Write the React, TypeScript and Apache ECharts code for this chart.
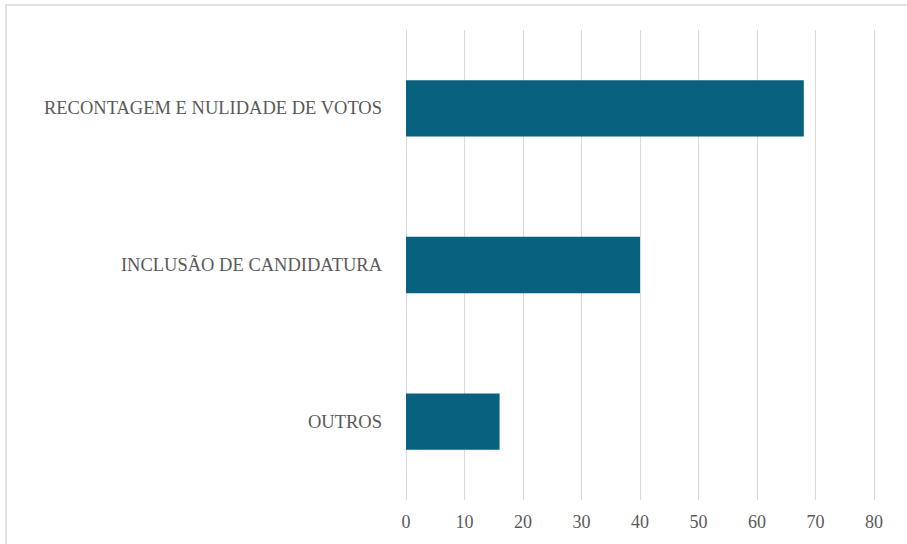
import React, { useEffect, useRef } from "react";
import * as echarts from "echarts";

const categories = ["OUTROS", "INCLUSÃO DE CANDIDATURA", "RECONTAGEM E NULIDADE DE VOTOS"];
const values = [16, 40, 68];
const xTicks = { min: 0, max: 80, interval: 10 };

export default function App() {
  const ref = useRef<HTMLDivElement>(null);
  useEffect(() => {
    if (!ref.current) return;
    const chart = echarts.init(ref.current, null, { renderer: "svg" });
    const font = "'Liberation Serif', serif";
    chart.setOption({
      animation: false,
      backgroundColor: "#ffffff",
      graphic: [
        {
          type: "rect",
          shape: { x: 6, y: 5, width: 920, height: 560 },
          style: { fill: "none", stroke: "#d9d9d9", lineWidth: 1.5 },
          silent: true,
        },
      ],
      grid: { left: 406, right: 33, top: 30, bottom: 44 },
      xAxis: {
        type: "value",
        min: xTicks.min,
        max: xTicks.max,
        interval: xTicks.interval,
        axisLine: { show: false },
        axisTick: { show: false },
        splitLine: { show: true, lineStyle: { color: "#d9d9d9", width: 1 } },
        axisLabel: { color: "#595959", fontFamily: font, fontSize: 18, margin: 13 },
      },
      yAxis: {
        type: "category",
        data: categories,
        axisLine: { show: false },
        axisTick: { show: false },
        axisLabel: { color: "#595959", fontFamily: font, fontSize: 18.5, margin: 24 },
      },
      series: [
        {
          type: "bar",
          data: values,
          barWidth: "36%",
          itemStyle: { color: "#08617f" },
        },
      ],
    });
    return () => chart.dispose();
  }, []);
  return (
    <div
      ref={ref}
      style={{ position: "absolute", left: 0, top: 0, width: 907, height: 544 }}
    />
  );
}
